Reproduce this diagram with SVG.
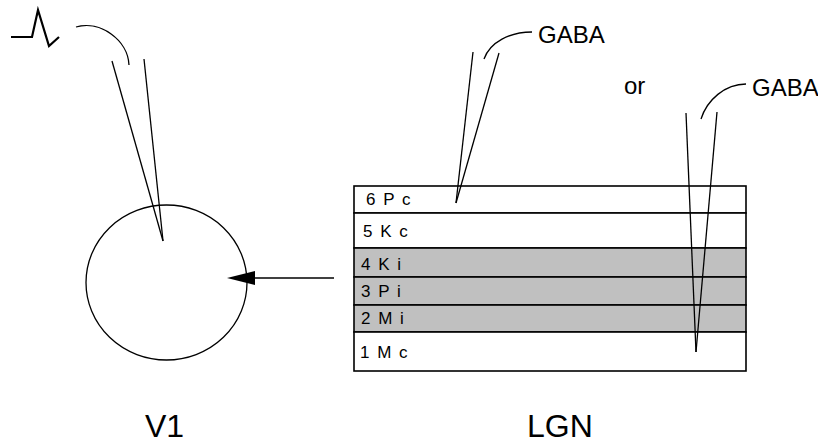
<svg xmlns="http://www.w3.org/2000/svg" width="818" height="443" viewBox="0 0 818 443">
  <style>
    .ln { fill: none; stroke: #000; stroke-width: 1.3; }
    .box { fill: #fff; stroke: #000; stroke-width: 1.6; }
    .shade { fill: #c0c0c0; stroke: #000; stroke-width: 1.6; }
    .lay { font-family: "Liberation Sans", Arial, sans-serif; font-size: 17px; letter-spacing: 1.5px; fill: #000; }
    .lbl { font-family: "Liberation Sans", Arial, sans-serif; font-size: 24px; fill: #000; }
    .big { font-family: "Liberation Sans", Arial, sans-serif; font-size: 32px; fill: #000; }
  </style>
  <rect width="818" height="443" fill="#fff"/>

  <!-- V1 cell -->
  <g id="v1">
    <ellipse cx="166.5" cy="282.5" rx="80.5" ry="77.5" class="ln"/>
    <text x="145" y="437" class="big">V1</text>
  </g>

  <!-- recording electrode with spike symbol -->
  <g id="recording-electrode">
    <polyline points="11,37 32,37 38,10 49,46 59,37" fill="none" stroke="#000" stroke-width="2.2" stroke-linejoin="miter"/>
    <path d="M76,27 C100,20 128,40 129,65" class="ln"/>
    <line x1="112" y1="61" x2="163" y2="241" class="ln"/>
    <line x1="144" y1="59" x2="163" y2="241" class="ln"/>
  </g>

  <!-- LGN layers -->
  <g id="lgn">
    <rect x="354" y="186" width="392" height="27" class="box"/>
    <rect x="354" y="213" width="392" height="35" class="box"/>
    <rect x="354" y="248" width="392" height="29" class="shade"/>
    <rect x="354" y="277" width="392" height="28" class="shade"/>
    <rect x="354" y="305" width="392" height="27" class="shade"/>
    <rect x="354" y="332" width="392" height="39" class="box"/>
    <text x="366" y="205" class="lay">6 P c</text>
    <text x="363" y="237" class="lay">5 K c</text>
    <text x="361" y="270" class="lay">4 K i</text>
    <text x="361" y="297" class="lay">3 P i</text>
    <text x="361" y="324" class="lay">2 M i</text>
    <text x="360" y="358" class="lay">1 M c</text>
    <text x="527" y="437" class="big">LGN</text>
  </g>

  <!-- GABA electrode into layer 6 -->
  <g id="gaba-electrode-1">
    <line x1="473" y1="52" x2="456" y2="203" class="ln"/>
    <line x1="499" y1="53" x2="456" y2="203" class="ln"/>
    <path d="M484,59 C490,42 510,32 532,32" class="ln"/>
    <text x="538" y="43" class="lbl">GABA</text>
  </g>

  <text x="624" y="94" class="lbl" font-size="21">or</text>

  <!-- GABA electrode through all layers -->
  <g id="gaba-electrode-2">
    <line x1="686" y1="113" x2="696" y2="352" class="ln"/>
    <line x1="717" y1="112" x2="696" y2="352" class="ln"/>
    <path d="M701,119 C707,100 725,84 746,84" class="ln"/>
    <text x="752" y="96" class="lbl">GABA</text>
  </g>

  <!-- connectors -->
  <g id="connectors">
    <line x1="334" y1="278" x2="255" y2="278" stroke="#000" stroke-width="1.3"/>
    <path d="M227,278 L255,271 L255,285 Z" fill="#000"/>
  </g>
</svg>
